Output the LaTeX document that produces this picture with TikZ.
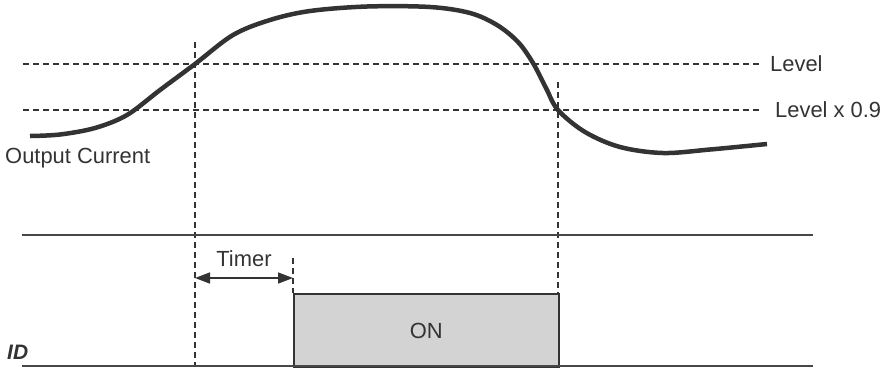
\documentclass[tikz,border=0pt]{standalone}
\usepackage{fontspec}
\setmainfont{Liberation Sans}
\usetikzlibrary{arrows.meta}
\definecolor{ink}{HTML}{333333}
\definecolor{boxfill}{HTML}{D3D3D3}
\tikzset{
  guide/.style={draw=ink, line width=1.2bp, dash pattern=on 6bp off 4bp},
  axisline/.style={draw=ink!90, line width=1.5bp},
  curve/.style={draw=ink, line width=4.5bp, line cap=butt},
  lbl/.style={font=\fontsize{22}{26}\selectfont, text=ink, inner sep=0pt},
  onbox/.style={draw=ink, line width=1.5bp, fill=boxfill},
  span/.style={draw=ink, line width=1.5bp, {Triangle[length=15bp,width=11bp]}-{Triangle[length=15bp,width=11bp]}}
}
\begin{document}
\begin{tikzpicture}[x=1bp,y=-1bp]
\useasboundingbox (0,0) rectangle (883,367);
% coordinates
\coordinate (lvlL) at (23,64);
\coordinate (lvlR) at (761,64);
\coordinate (l9L) at (23,110);
\coordinate (l9R) at (761,110);
\coordinate (v1t) at (195,42);
\coordinate (v1b) at (195,367);
\coordinate (v2t) at (558,82);
\coordinate (v2b) at (558,367);
\coordinate (tmt) at (293,258);
\coordinate (tmb) at (293,293);
\coordinate (baseTL) at (22,235);
\coordinate (baseTR) at (813,235);
\coordinate (baseBL) at (22,366);
\coordinate (baseBR) at (813,366);
\coordinate (arL) at (195,278);
\coordinate (arR) at (293,278);
% guides
\draw[guide] (lvlL) -- (lvlR);
\draw[guide] (l9L) -- (l9R);
\draw[guide] (v1t) -- (v1b);
\draw[guide] (v2t) -- (v2b);
\draw[guide] (tmt) -- (tmb);
% axes
\draw[axisline] (baseTL) -- (baseTR);
% ON box
\node[onbox, minimum width=265bp, minimum height=74bp, anchor=north west, inner sep=0pt] (on) at (293,293) {};
\node[lbl] (ontext) at (on.center) {ON};
\draw[axisline] (baseBL) -- (baseBR);
% timer arrow
\draw[span] (arL) -- (arR);
\node[lbl] (timer) at (244,259) {Timer};
% curve
\draw[curve] plot[smooth, tension=0.55] coordinates {
 (30,136) (60,134.5) (95,128) (127,115) (160,90) (195,64) (233,35) (270,20) (310,11)
 (367,6.5) (430,7) (470,13) (497,25) (518,42) (533,63) (546,88) (558,110) (585,132)
 (620,147) (663,153) (710,149.5) (767,144)};
% labels
\node[lbl, anchor=west] (lvl) at (770,64) {Level};
\node[lbl, anchor=west] (lvl9) at (775,110) {Level x 0.9};
\node[lbl, anchor=west] (oc) at (5,158) {Output Current};
\node[lbl, anchor=west, font=\fontsize{21}{25}\selectfont\bfseries\itshape] (id) at (7,352) {ID};
\end{tikzpicture}
\end{document}
